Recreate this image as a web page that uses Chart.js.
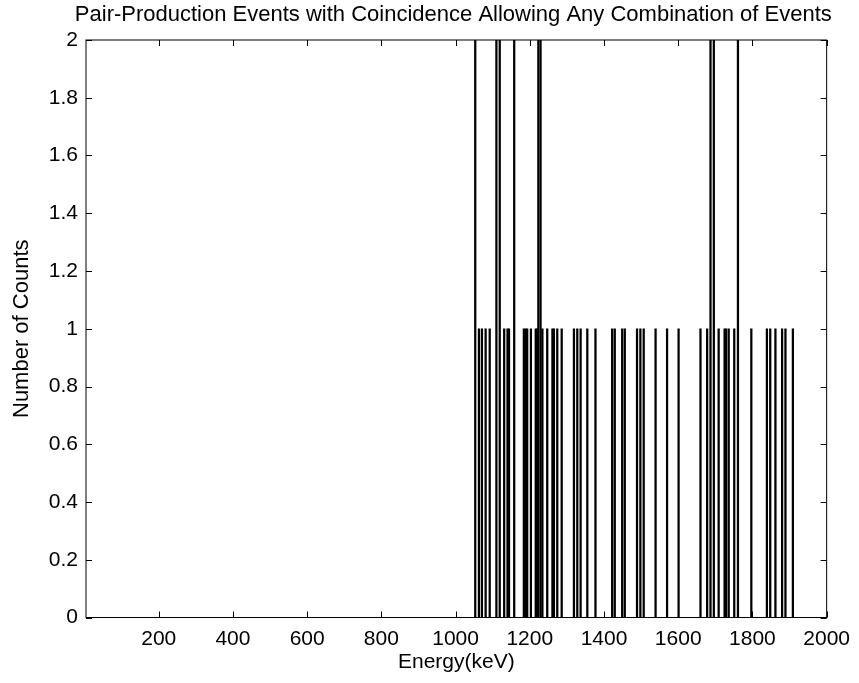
<!DOCTYPE html>
<html lang="en">
<head>
    <meta charset="UTF-8">
    <title>Pair-Production Events</title>
    <script src="https://cdn.jsdelivr.net/npm/chart.js"></script>
    <style>
        html, body { margin: 0; padding: 0; background: #fff; }
        #wrap { width: 859px; height: 683px; }
    </style>
</head>
<body>
<div id="wrap"><canvas id="pairChart"></canvas></div>

<script>
    // energies (keV) where counts were recorded, and the counts there
    const energies = [1053, 1063, 1071, 1081, 1092, 1110, 1119, 1131, 1140, 1144,
        1158, 1184, 1189, 1193, 1203, 1216, 1220, 1223, 1229, 1234,
        1247, 1261, 1265, 1274, 1286, 1319, 1328, 1337, 1355, 1377,
        1422, 1429, 1449, 1456, 1489, 1498, 1507, 1539, 1570, 1601,
        1660, 1678, 1687, 1696, 1709, 1725, 1729, 1736, 1751, 1761,
        1797, 1839, 1848, 1862, 1880, 1889, 1909];
    const counts = [2, 1, 1, 1, 1, 2, 2, 1, 1, 1,
        2, 1, 1, 1, 1, 1, 1, 2, 2, 1,
        1, 1, 1, 1, 1, 1, 1, 1, 1, 1,
        1, 1, 1, 1, 1, 1, 1, 1, 1, 1,
        1, 1, 2, 2, 1, 1, 1, 1, 1, 2,
        1, 1, 1, 1, 1, 1, 1];
    const xTicks = [200, 400, 600, 800, 1000, 1200, 1400, 1600, 1800, 2000];
    const yTicks = [0, 0.2, 0.4, 0.6, 0.8, 1, 1.2, 1.4, 1.6, 1.8, 2];
    const titleText = 'Pair-Production Events with Coincidence Allowing Any Combination of Events';

    const font = "'Liberation Sans', Arial, sans-serif";

    // matlab style box with inward ticks on all four sides, title over the plot box
    const boxTicks = {
        id: 'boxTicks',
        afterDraw(chart) {
            const ctx = chart.ctx;
            const a = chart.chartArea;
            const x = chart.scales.x, y = chart.scales.y;
            const len = 6;
            ctx.save();
            ctx.strokeStyle = '#000';
            ctx.lineWidth = 1;
            ctx.strokeRect(a.left, a.top, a.right - a.left, a.bottom - a.top);
            ctx.beginPath();
            x.ticks.forEach(t => {
                const px = Math.round(x.getPixelForValue(t.value)) + 0.5;
                ctx.moveTo(px, a.bottom); ctx.lineTo(px, a.bottom - len);
                ctx.moveTo(px, a.top); ctx.lineTo(px, a.top + len);
            });
            y.ticks.forEach(t => {
                const py = Math.round(y.getPixelForValue(t.value)) + 0.5;
                ctx.moveTo(a.left, py); ctx.lineTo(a.left + len, py);
                ctx.moveTo(a.right, py); ctx.lineTo(a.right - len, py);
            });
            ctx.stroke();

            ctx.fillStyle = '#000';
            ctx.font = '22px ' + font;
            ctx.textAlign = 'center';
            ctx.textBaseline = 'middle';
            ctx.fillText(titleText, (a.left + a.right) / 2 - 3, 15);
            ctx.restore();
        }
    };

    const ctx = document.getElementById('pairChart').getContext('2d');
    const pairChart = new Chart(ctx, {
        type: 'bar',
        data: {
            datasets: [{
                label: 'Counts',
                data: energies.map((e, i) => ({x: e, y: counts[i]})),
                backgroundColor: '#000',
                barThickness: 1.6
            }]
        },
        options: {
            responsive: true,
            maintainAspectRatio: false,
            animation: false,
            layout: {padding: {left: 0, right: 31, top: 40, bottom: 0}},
            plugins: {
                legend: {display: false},
                tooltip: {enabled: false},
                title: {display: false}
            },
            scales: {
                x: {
                    type: 'linear',
                    min: 4,
                    max: 2000,
                    offset: false,
                    afterBuildTicks: axis => { axis.ticks = xTicks.map(v => ({value: v})); },
                    afterFit: scale => { scale.height = 65.5; },
                    grid: {display: false, drawTicks: false},
                    border: {display: false},
                    ticks: {color: '#000', font: {family: font, size: 21}, padding: 9, maxRotation: 0,
                        callback: v => String(v)},
                    title: {display: true, text: 'Energy(keV)', color: '#000',
                        font: {family: font, size: 21}, padding: {top: 0, bottom: 8}}
                },
                y: {
                    min: 0,
                    max: 2,
                    afterBuildTicks: axis => { axis.ticks = yTicks.map(v => ({value: v})); },
                    afterFit: scale => { scale.width = 86; },
                    grid: {display: false, drawTicks: false},
                    border: {display: false},
                    ticks: {color: '#000', font: {family: font, size: 21}, padding: 8,
                        callback: v => String(v)},
                    title: {display: true, text: 'Number of Counts', color: '#000',
                        font: {family: font, size: 22}, padding: {top: 9, bottom: 0}}
                }
            }
        },
        plugins: [boxTicks]
    });
</script>
</body>
</html>
